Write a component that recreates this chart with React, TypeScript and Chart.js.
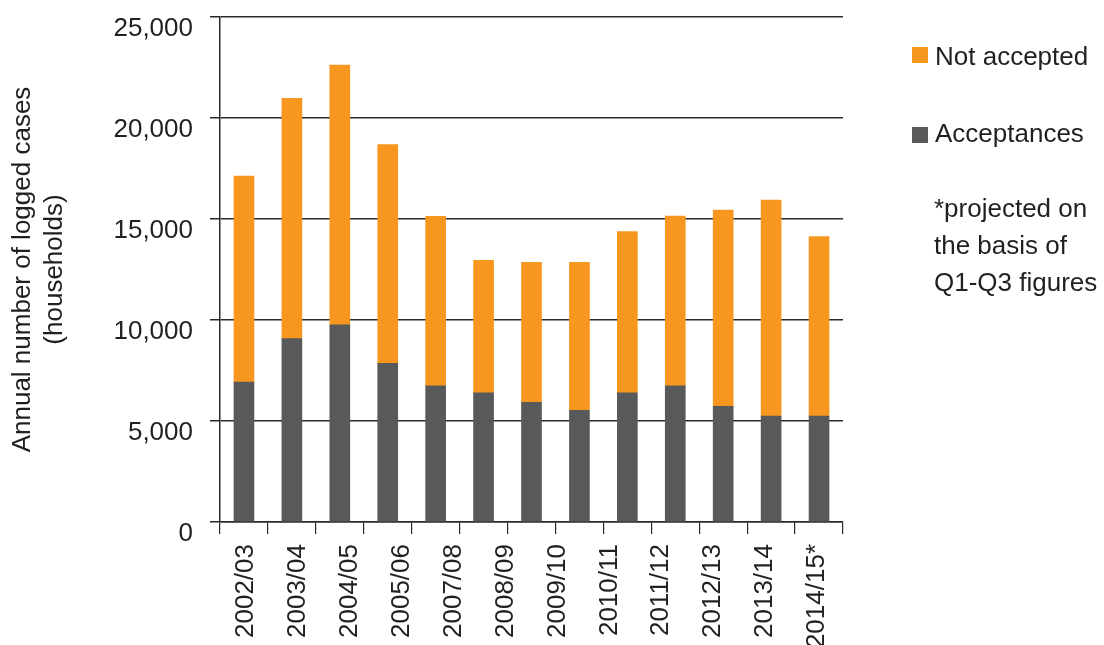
import React, { useEffect, useRef } from 'react';
import { Chart, registerables } from 'chart.js';

Chart.register(...registerables);

// ---- data ----
const years = ['2002/03', '2003/04', '2004/05', '2005/06', '2006/07', '2007/08', '2008/09', '2009/10', '2010/11', '2011/12', '2012/13', '2013/14', '2014/15*'];
const axisLabels = ['2002/03', '2003/04', '2004/05', '2005/06', '2007/08', '2008/09', '2009/10', '2010/11', '2011/12', '2012/13', '2013/14', '2014/15*'];
const acceptances = [6930, 9080, 9760, 7860, 6740, 6400, 5920, 5530, 6400, 6740, 5730, 5240, 5240];
const notAccepted = [10200, 11890, 12860, 10830, 8390, 6560, 6940, 7330, 7980, 8400, 9710, 10700, 8890];
const yTitle = ['Annual number of logged cases', '(households)'];
const footnote = ['*projected on', 'the basis of', 'Q1-Q3 figures'];
const yMin = 0;
const yMax = 25000;
const yStep = 5000;

// ---- styles ----
const FONT = '"Liberation Sans", Arial, Helvetica, sans-serif';
const TEXT = '#231F20';
const GRID = '#2a2a2a';
const ORANGE = '#F7971F';
const GRAY = '#58595B';

const sideLegend = {
  id: 'sideLegend',
  afterDraw(chart: any) {
    const { ctx, chartArea } = chart;
    const right = chartArea.right;
    const top = chartArea.top;
    ctx.save();
    ctx.font = `26px ${FONT}`;
    ctx.fillStyle = TEXT;
    ctx.textBaseline = 'alphabetic';
    ctx.textAlign = 'left';
    const items = [chart.data.datasets[1], chart.data.datasets[0]];
    const boxY = [top + 30, top + 110];
    const textY = [top + 48, top + 125];
    items.forEach((ds: any, i: number) => {
      ctx.fillStyle = ds.backgroundColor;
      ctx.fillRect(right + 69, boxY[i], 16, 16);
      ctx.fillStyle = TEXT;
      ctx.fillText(ds.label, right + 92, textY[i]);
    });
    const noteY = [top + 200, top + 237, top + 274];
    footnote.forEach((line, i) => {
      ctx.fillText(line, right + 91, noteY[i]);
    });
    ctx.restore();
  },
};

export default function App() {
  const ref = useRef<HTMLCanvasElement | null>(null);

  useEffect(() => {
    if (!ref.current) return;
    Chart.defaults.font.family = FONT;
    Chart.defaults.color = TEXT;
    const chart = new Chart(ref.current, {
      type: 'bar',
      data: {
        labels: years,
        datasets: [
          {
            label: 'Acceptances',
            data: acceptances,
            backgroundColor: GRAY,
            barThickness: 20,
            xAxisID: 'x',
            yAxisID: 'y',
          },
          {
            label: 'Not accepted',
            data: notAccepted,
            backgroundColor: ORANGE,
            barThickness: 20,
            xAxisID: 'x',
            yAxisID: 'y',
          },
        ],
      },
      options: {
        responsive: false,
        animation: false,
        devicePixelRatio: 1,
        layout: { padding: { top: 17, right: 261, bottom: 0, left: 0 } },
        plugins: {
          legend: { display: false },
          tooltip: { enabled: false },
        },
        scales: {
          x: {
            type: 'category',
            stacked: true,
            offset: true,
            weight: 0,
            position: 'bottom',
            grid: {
              display: true,
              offset: true,
              drawOnChartArea: false,
              drawTicks: true,
              tickLength: 12,
              color: GRID,
              lineWidth: 1.2,
            },
            border: { display: true, color: GRID, width: 1.5 },
            ticks: { display: false },
            afterFit: (s: any) => {
              s.height = 12;
              s.paddingLeft = 0;
              s.paddingRight = 0;
            },
          },
          x2: {
            type: 'category',
            labels: axisLabels,
            offset: true,
            weight: 1,
            position: 'bottom',
            grid: { display: false },
            border: { display: false },
            ticks: {
              autoSkip: false,
              minRotation: 90,
              maxRotation: 90,
              padding: 2,
              color: TEXT,
              font: { size: 26 },
            },
            afterFit: (s: any) => {
              s.height = 111;
              s.paddingLeft = 0;
              s.paddingRight = 0;
            },
          },
          y: {
            type: 'linear',
            stacked: true,
            min: yMin,
            max: yMax,
            position: 'left',
            grid: {
              color: GRID,
              lineWidth: 1.5,
              tickLength: 10,
              drawTicks: true,
            },
            border: { display: true, color: GRID, width: 1.5 },
            ticks: {
              stepSize: yStep,
              padding: 17,
              labelOffset: 12,
              color: TEXT,
              font: { size: 26 },
              callback: (v: any) => Number(v).toLocaleString('en-US'),
            },
            title: {
              display: true,
              text: yTitle,
              color: TEXT,
              font: { size: 26, lineHeight: 1.23 },
              padding: { top: 7, bottom: 0 },
            },
            afterFit: (s: any) => {
              s.width = 220;
              s.paddingTop = 0;
              s.paddingBottom = 0;
            },
          },
        },
      },
      plugins: [sideLegend],
    } as any);
    return () => chart.destroy();
  }, []);

  return (
    <div style={{ position: 'absolute', left: 0, top: 0, width: 1104, height: 645, background: '#fff' }}>
      <canvas ref={ref} width={1104} height={645} style={{ display: 'block', width: 1104, height: 645 }} />
    </div>
  );
}
